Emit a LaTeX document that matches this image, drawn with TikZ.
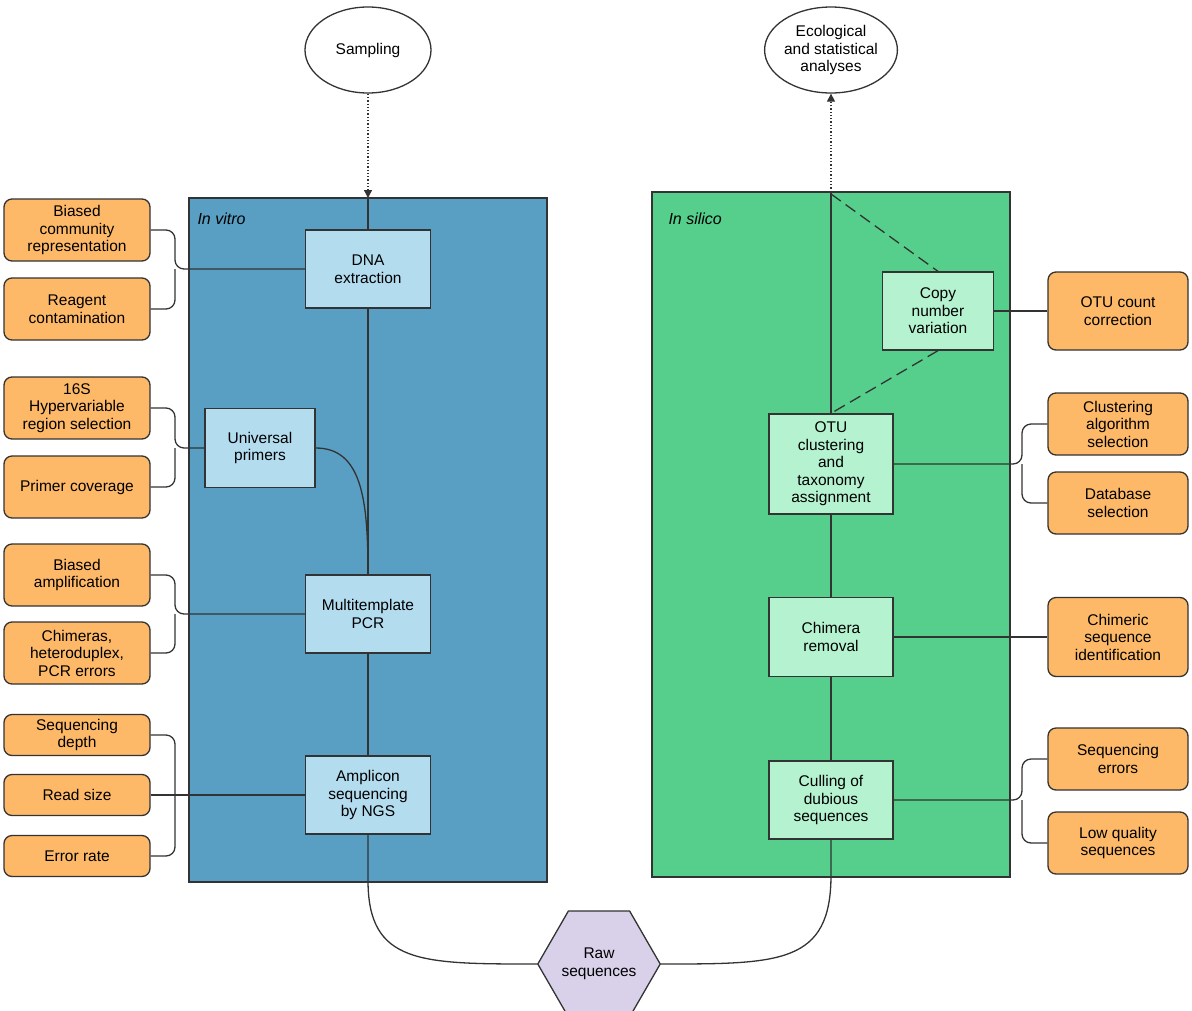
\documentclass[tikz,border=0pt]{standalone}
\usepackage{fontspec}
\setmainfont{Liberation Sans}
\usetikzlibrary{shapes.geometric,arrows.meta}
\definecolor{panelB}{HTML}{589FC3}
\definecolor{boxB}{HTML}{B3DCEF}
\definecolor{panelG}{HTML}{55CF8B}
\definecolor{boxG}{HTML}{B4F2D0}
\definecolor{org}{HTML}{FDB968}
\definecolor{hexc}{HTML}{D9D0EA}
\definecolor{ln}{HTML}{333333}
\begin{document}
\begin{tikzpicture}[x=1pt,y=-1pt,
  every node/.style={font=\fontsize{15.5}{17.5}\selectfont,align=center,text=black},
  box/.style={draw=ln,line width=1.3pt,minimum width=#1,inner sep=2pt},
  bb/.style={box=125pt,fill=boxB,minimum height=78pt},
  gb/.style={box=124pt,fill=boxG,minimum height=78pt},
  ob/.style={draw=ln,line width=1.3pt,fill=org,rounded corners=8pt,minimum width=146pt,minimum height=62pt,inner sep=1pt},
  ob2/.style={ob,minimum height=41pt},
  ov/.style={draw=ln,line width=1.3pt,fill=white,ellipse,minimum width=126pt,minimum height=86pt,inner sep=0pt},
  cn/.style={draw=ln,line width=1.3pt},
  br/.style={cn,rounded corners=9pt}]
\useasboundingbox (0,0) rectangle (1192,1010);
% panels
\draw[ln,line width=1.3pt,fill=panelB] (189,198) rectangle (547,882);
\draw[ln,line width=1.3pt,fill=panelG] (652,192) rectangle (1010,877);
\node[anchor=west,font=\fontsize{16}{18}\selectfont\itshape] (iv) at (194,219) {In vitro};
\node[anchor=west,font=\fontsize{16}{18}\selectfont\itshape] (is) at (665,219) {In silico};
% ellipses
\node[ov] (samp) at (368,50) {Sampling};
\node[ov] (eco) at (831,50) {Ecological\\and statistical\\analyses};
% blue boxes
\node[bb] (dna) at (368,269) {DNA\\extraction};
\node[box=110pt,fill=boxB,minimum height=79pt] (up) at (260,448) {Universal\\primers};
\node[bb] (pcr) at (368,614) {Multitemplate\\PCR};
\node[bb] (amp) at (368,795) {Amplicon\\sequencing\\by NGS};
% green boxes
\node[box=111pt,fill=boxG,minimum height=78pt] (cnv) at (938,311) {Copy\\number\\variation};
\node[gb,minimum height=100pt] (otu) at (831,464) {OTU\\clustering\\and\\taxonomy\\assignment};
\node[gb,minimum height=79pt] (chi) at (831,637) {Chimera\\removal};
\node[gb] (cul) at (831,800) {Culling of\\dubious\\sequences};
% hexagon
\node[draw=ln,line width=1.3pt,fill=hexc,regular polygon,regular polygon sides=6,minimum size=118pt,inner sep=0pt] (raw) at (599,964) {Raw\\sequences};
% orange left
\node[ob] (o1) at (77,230) {Biased\\community\\representation};
\node[ob] (o2) at (77,309) {Reagent\\contamination};
\node[ob] (o3) at (77,408) {16S\\Hypervariable\\region selection};
\node[ob] (o4) at (77,487) {Primer coverage};
\node[ob] (o5) at (77,575) {Biased\\amplification};
\node[ob] (o6) at (77,653) {Chimeras,\\heteroduplex,\\PCR errors};
\node[ob2] (o7) at (77,735) {Sequencing\\depth};
\node[ob2] (o8) at (77,795) {Read size};
\node[ob2] (o9) at (77,856) {Error rate};
% orange right
\node[ob,minimum width=140pt,minimum height=78pt] (r1) at (1118,311) {OTU count\\correction};
\node[ob,minimum width=140pt] (r2) at (1118,424) {Clustering\\algorithm\\selection};
\node[ob,minimum width=140pt] (r3) at (1118,503) {Database\\selection};
\node[ob,minimum width=140pt,minimum height=79pt] (r4) at (1118,637) {Chimeric\\sequence\\identification};
\node[ob,minimum width=140pt] (r5) at (1118,759) {Sequencing\\errors};
\node[ob,minimum width=140pt] (r6) at (1118,843) {Low quality\\sequences};
% coordinates
\coordinate (ptop) at (368,198);
\coordinate (gtop) at (831,192);
\coordinate (gt2) at (831,194);
% main flow
\draw[cn,dotted,-{Triangle[length=8pt,width=8pt]}] (samp.south) -- (ptop);
\draw[cn] (ptop) -- (dna.north);
\draw[cn] (dna.south) -- (pcr.north);
\draw[cn] (up.east) .. controls (362,448) and (368,500) .. (pcr.north);
\draw[cn] (pcr.south) -- (amp.south |- amp.north);
\draw[cn] (amp.south) -- (368,880) .. controls (368,964) and (420,964) .. (raw.west);
\draw[cn] (cul.south) -- (831,875) .. controls (831,964) and (780,964) .. (raw.east);
\draw[cn] (cul.north) -- (chi.south);
\draw[cn] (chi.north) -- (otu.south);
\draw[cn] (otu.north) -- (gtop);
\draw[cn,dotted,-{Triangle[length=8pt,width=8pt]}] (gtop) -- (eco.south);
\draw[cn,dash pattern=on 12pt off 6pt] (gt2) -- (cnv.north);
\draw[cn,dash pattern=on 12pt off 6pt] (cnv.south) -- (otu.north);
\draw[cn] (cnv.east) -- (r1.west);
\draw[cn] (chi.east) -- (r4.west);
% left braces
\draw[br] (o1.east) -| (175,269) -- (dna.west);
\draw[br] (o2.east) -| (175,269);
\draw[br] (o3.east) -| (175,448) -- (up.west);
\draw[br] (o4.east) -| (175,448);
\draw[br] (o5.east) -| (175,614) -- (pcr.west);
\draw[br] (o6.east) -| (175,614);
\draw[br] (o7.east) -| (175,795);
\draw[cn] (o8.east) -- (amp.west);
\draw[br] (o9.east) -| (175,795);
% right braces
\draw[br] (r2.west) -| (1022,464) -- (otu.east);
\draw[br] (r3.west) -| (1022,464);
\draw[br] (r5.west) -| (1022,800) -- (cul.east);
\draw[br] (r6.west) -| (1022,800);
\end{tikzpicture}
\end{document}
